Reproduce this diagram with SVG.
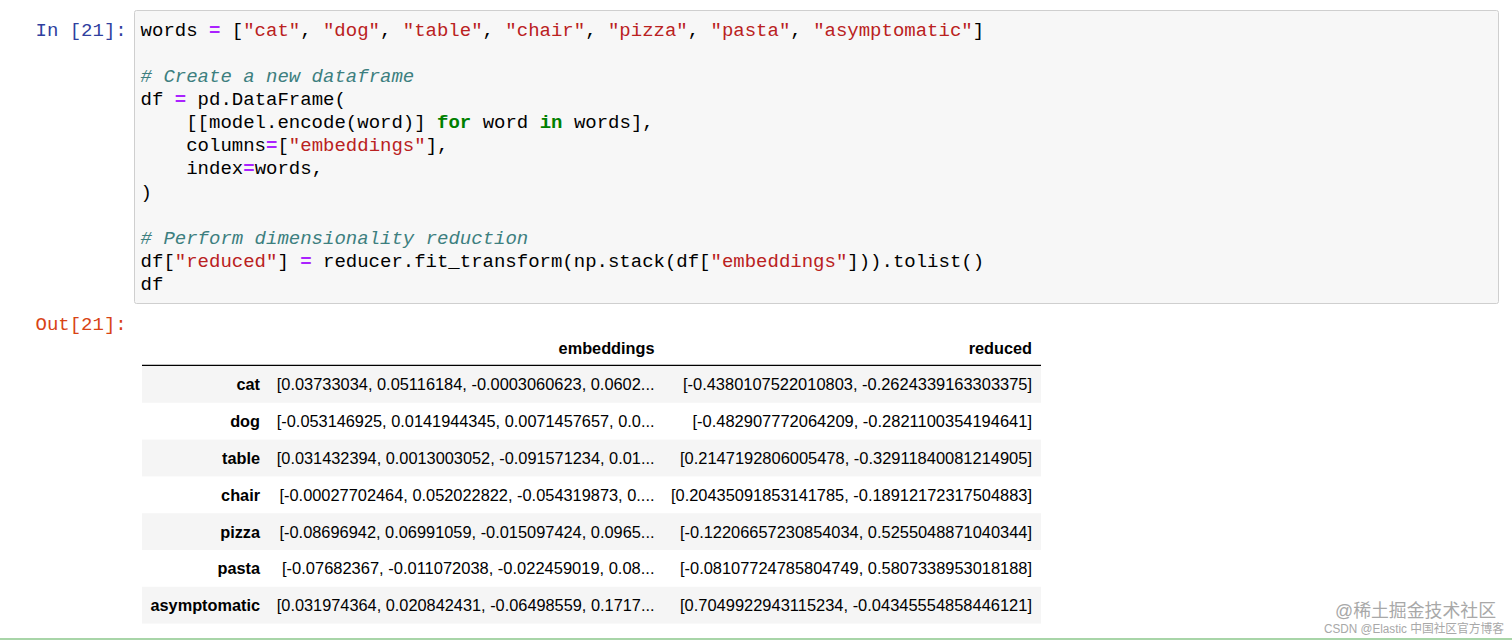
<svg xmlns="http://www.w3.org/2000/svg" width="1512" height="640" viewBox="0 0 1512 640">
<style>
.mono{font-family:"Liberation Mono","DejaVu Sans Mono",monospace;font-size:19px;fill:#000;white-space:pre}
.op{fill:#aa22ff;font-weight:bold}
.str{fill:#ba2121}
.cm{fill:#3d7f7f;font-style:italic}
.kw{fill:#008000;font-weight:bold}
.prompt-in{font-family:"Liberation Mono","DejaVu Sans Mono",monospace;font-size:19px;fill:#303f9f}
.prompt-out{font-family:"Liberation Mono","DejaVu Sans Mono",monospace;font-size:19px;fill:#d84315}
.cell{font-family:"Liberation Sans",Arial,sans-serif;font-size:16.3px;fill:#000;text-anchor:end}
.hd{font-weight:bold}
.stripe{fill:#f5f5f5}
.wm{font-family:"Liberation Sans","Noto Sans CJK SC",sans-serif;fill:#a8a8a8}
</style>
<rect x="0" y="0" width="1512" height="640" fill="#ffffff"/>
<g id="input-cell">
<text class="prompt-in" x="35.5" y="36">In [21]:</text>
<rect x="134.5" y="10.5" width="1364" height="293" rx="2" fill="#f7f7f7" stroke="#cfcfcf" stroke-width="1"/>
<text class="mono" x="140.6" y="36" textLength="843.5" lengthAdjust="spacingAndGlyphs">words <tspan class="op">=</tspan> [<tspan class="str">"cat"</tspan>, <tspan class="str">"dog"</tspan>, <tspan class="str">"table"</tspan>, <tspan class="str">"chair"</tspan>, <tspan class="str">"pizza"</tspan>, <tspan class="str">"pasta"</tspan>, <tspan class="str">"asymptomatic"</tspan>]</text>
<text class="mono cm" x="140.6" y="82"># Create a new dataframe</text>
<text class="mono" x="140.6" y="105">df <tspan class="op">=</tspan> pd.DataFrame(</text>
<text class="mono" x="140.6" y="128">    [[model.encode(word)] <tspan class="kw">for</tspan> word <tspan class="kw">in</tspan> words],</text>
<text class="mono" x="140.6" y="151">    columns<tspan class="op">=</tspan>[<tspan class="str">"embeddings"</tspan>],</text>
<text class="mono" x="140.6" y="174">    index<tspan class="op">=</tspan>words,</text>
<text class="mono" x="140.6" y="198">)</text>
<text class="mono cm" x="140.6" y="244"># Perform dimensionality reduction</text>
<text class="mono" x="140.6" y="267" textLength="843.5" lengthAdjust="spacingAndGlyphs">df[<tspan class="str">"reduced"</tspan>] <tspan class="op">=</tspan> reducer.fit_transform(np.stack(df[<tspan class="str">"embeddings"</tspan>])).tolist()</text>
<text class="mono" x="140.6" y="290">df</text>
</g>
<g id="output-cell">
<text class="prompt-out" x="35.5" y="330">Out[21]:</text>
<g id="table-stripes">
<rect class="stripe" x="142" y="366" width="899" height="36.8"/>
<rect class="stripe" x="142" y="439.6" width="899" height="36.8"/>
<rect class="stripe" x="142" y="513.2" width="899" height="36.8"/>
<rect class="stripe" x="142" y="586.8" width="899" height="36.8"/>
</g>
<line x1="142" y1="365.3" x2="1041" y2="365.3" stroke="#000" stroke-width="1.3"/>
<g id="header">
<text class="cell hd" x="654.5" y="353.5">embeddings</text>
<text class="cell hd" x="1032" y="353.5">reduced</text>
</g>
<g id="row-cat">
<text class="cell hd" x="260" y="390.4">cat</text>
<text class="cell" x="654.5" y="390.4" textLength="377.7" lengthAdjust="spacingAndGlyphs">[0.03733034, 0.05116184, -0.0003060623, 0.0602...</text>
<text class="cell" x="1032" y="390.4" textLength="349" lengthAdjust="spacingAndGlyphs">[-0.4380107522010803, -0.2624339163303375]</text>
</g>
<g id="row-dog">
<text class="cell hd" x="260" y="427.2">dog</text>
<text class="cell" x="654.5" y="427.2" textLength="377.7" lengthAdjust="spacingAndGlyphs">[-0.053146925, 0.0141944345, 0.0071457657, 0.0...</text>
<text class="cell" x="1032" y="427.2" textLength="339.5" lengthAdjust="spacingAndGlyphs">[-0.482907772064209, -0.2821100354194641]</text>
</g>
<g id="row-table">
<text class="cell hd" x="260" y="464">table</text>
<text class="cell" x="654.5" y="464" textLength="377.7" lengthAdjust="spacingAndGlyphs">[0.031432394, 0.0013003052, -0.091571234, 0.01...</text>
<text class="cell" x="1032" y="464" textLength="352" lengthAdjust="spacingAndGlyphs">[0.2147192806005478, -0.32911840081214905]</text>
</g>
<g id="row-chair">
<text class="cell hd" x="260" y="500.8">chair</text>
<text class="cell" x="654.5" y="500.8" textLength="375" lengthAdjust="spacingAndGlyphs">[-0.00027702464, 0.052022822, -0.054319873, 0....</text>
<text class="cell" x="1032" y="500.8" textLength="361" lengthAdjust="spacingAndGlyphs">[0.20435091853141785, -0.18912172317504883]</text>
</g>
<g id="row-pizza">
<text class="cell hd" x="260" y="537.6">pizza</text>
<text class="cell" x="654.5" y="537.6" textLength="375" lengthAdjust="spacingAndGlyphs">[-0.08696942, 0.06991059, -0.015097424, 0.0965...</text>
<text class="cell" x="1032" y="537.6" textLength="352" lengthAdjust="spacingAndGlyphs">[-0.12206657230854034, 0.5255048871040344]</text>
</g>
<g id="row-pasta">
<text class="cell hd" x="260" y="574.4">pasta</text>
<text class="cell" x="654.5" y="574.4" textLength="372.5" lengthAdjust="spacingAndGlyphs">[-0.07682367, -0.011072038, -0.022459019, 0.08...</text>
<text class="cell" x="1032" y="574.4" textLength="352" lengthAdjust="spacingAndGlyphs">[-0.08107724785804749, 0.5807338953018188]</text>
</g>
<g id="row-asymptomatic">
<text class="cell hd" x="260" y="611.2">asymptomatic</text>
<text class="cell" x="654.5" y="611.2" textLength="377.7" lengthAdjust="spacingAndGlyphs">[0.031974364, 0.020842431, -0.06498559, 0.1717...</text>
<text class="cell" x="1032" y="611.2" textLength="352" lengthAdjust="spacingAndGlyphs">[0.7049922943115234, -0.04345554858446121]</text>
</g>
</g>
<g id="watermark">
<text class="wm" x="1335" y="617" font-size="18" textLength="161" lengthAdjust="spacingAndGlyphs">@稀土掘金技术社区</text>
<text class="wm" x="1324" y="633" font-size="12.5" textLength="180" lengthAdjust="spacingAndGlyphs" fill="#9a9a9a">CSDN @Elastic 中国社区官方博客</text>
</g>
<rect x="0" y="638" width="1512" height="2" fill="#a8d5a8"/>
</svg>
